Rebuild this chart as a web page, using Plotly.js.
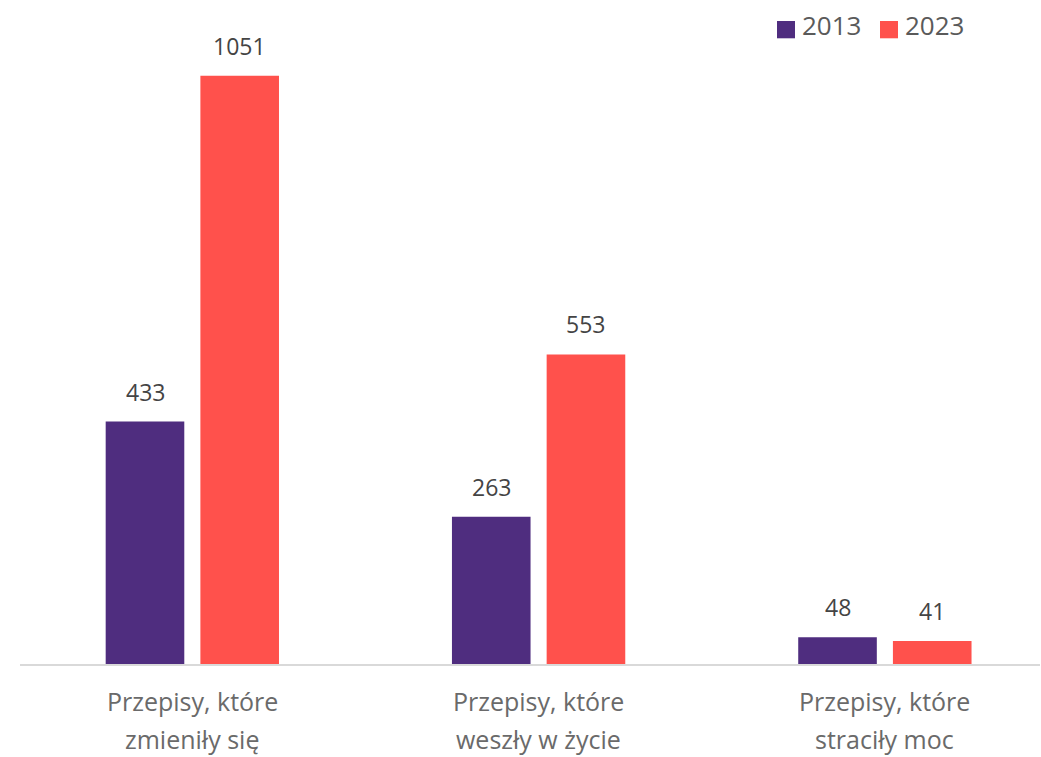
<!DOCTYPE html>
<html>
<head>
<meta charset="utf-8">
<script src="https://cdn.plot.ly/plotly-3.0.1.min.js"></script>
<style>
  html, body { margin: 0; padding: 0; background: #ffffff; }
  #chart { width: 1041px; height: 757px; }
</style>
</head>
<body>
<div id="chart"></div>
<script>
// ---- data ----
const categories = ["Przepisy, które zmieniły się", "Przepisy, które weszły w życie", "Przepisy, które straciły moc"];
const labelLine1 = ["Przepisy, które", "Przepisy, które", "Przepisy, które"];
const labelLine2 = ["zmieniły się", "weszły w życie", "straciły moc"];
const seriesNames = ["2013", "2023"];
const values2013 = [433, 263, 48];
const values2023 = [1051, 553, 41];

// ---- styles ----
const colors = ["#4F2D7F", "#FF514C"];
const fontFamily = "'Open Sans', sans-serif";

const traces = [
  { type: "bar", name: seriesNames[0], x: categories, y: values2013, marker: { color: colors[0] }, hoverinfo: "x+y+name" },
  { type: "bar", name: seriesNames[1], x: categories, y: values2023, marker: { color: colors[1] }, hoverinfo: "x+y+name" }
];

const annotations = [];
const seriesVals = [values2013, values2023];
const barShift = [-47.3, 47.3];
seriesVals.forEach((vals, s) => {
  vals.forEach((v, i) => {
    annotations.push({
      xref: "x", yref: "y", x: i, y: v, xshift: barShift[s], yshift: 30,
      yanchor: "middle", xanchor: "center", showarrow: false,
      text: String(v), font: { family: fontFamily, size: 23, color: "#444444" }
    });
  });
});
categories.forEach((c, i) => {
  annotations.push({
    xref: "x", yref: "paper", x: i, y: 0, yshift: -36.5, yanchor: "middle", showarrow: false,
    text: labelLine1[i], font: { family: fontFamily, size: 25, color: "#6A6A6A" }
  });
  annotations.push({
    xref: "x", yref: "paper", x: i, y: 0, yshift: -74.5, yanchor: "middle", showarrow: false,
    text: labelLine2[i], font: { family: fontFamily, size: 25, color: "#6A6A6A" }
  });
});

// custom legend (square swatches + labels)
const shapes = [];
const legendX = [777, 880];
seriesNames.forEach((n, s) => {
  shapes.push({
    type: "rect", xref: "paper", yref: "paper",
    x0: (legendX[s] - 20) / 1020, x1: (legendX[s] + 18 - 20) / 1020,
    y0: (664 - 38.3) / 644, y1: (664 - 21) / 644,
    fillcolor: colors[s], line: { width: 0 }
  });
  annotations.push({
    xref: "paper", yref: "paper", x: (legendX[s] + 23 - 20) / 1020, y: (664 - 25.5) / 644,
    xanchor: "left", yanchor: "middle", showarrow: false,
    text: n, font: { family: fontFamily, size: 26, color: "#5A5A5A" }
  });
});

const layout = {
  width: 1041, height: 757,
  margin: { l: 20, r: 1, t: 20, b: 93, pad: 0 },
  paper_bgcolor: "#ffffff", plot_bgcolor: "#ffffff",
  barmode: "group", bargap: 0.453, bargroupgap: 0.17,
  showlegend: false,
  font: { family: fontFamily, color: "#595959" },
  xaxis: {
    type: "category", range: [-0.4977, 2.448],
    showticklabels: false, ticks: "", showgrid: false, zeroline: false,
    showline: true, linecolor: "#D9D9D9", linewidth: 2
  },
  yaxis: {
    range: [0, 1150.4], showticklabels: false, showgrid: false, zeroline: false, showline: false, ticks: ""
  },
  annotations: annotations,
  shapes: shapes
};

Plotly.newPlot("chart", traces, layout, { displayModeBar: false, staticPlot: true });
</script>
</body>
</html>
